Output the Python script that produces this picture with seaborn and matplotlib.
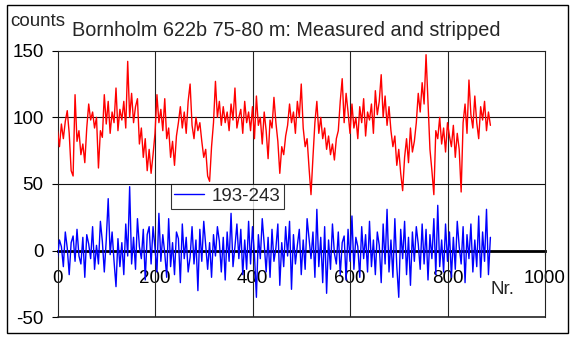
import matplotlib
matplotlib.use("Agg")
import matplotlib.pyplot as plt
from matplotlib.patches import Rectangle
import numpy as np
import seaborn as sns

# measured counts (red), read every 4th sample off the picture
red = [90, 78, 95, 84, 97, 105, 88, 60, 56, 117, 82, 90, 72, 80, 66, 92, 110, 98, 104, 92,
       100, 62, 90, 85, 117, 95, 112, 88, 104, 96, 122, 90, 106, 98, 112, 92, 142, 100, 118, 96,
       108, 114, 80, 92, 70, 84, 60, 76, 58, 72, 88, 117, 96, 106, 90, 114, 84, 92, 70, 82,
       64, 86, 96, 108, 92, 104, 88, 112, 125, 94, 84, 100, 90, 96, 82, 70, 76, 56, 52, 78,
       96, 127, 100, 112, 94, 108, 96, 104, 90, 110, 98, 122, 92, 100, 106, 88, 112, 96, 104, 90,
       108, 84, 116, 94, 100, 80, 104, 90, 69, 98, 92, 115, 96, 82, 58, 78, 72, 86, 94, 110,
       96, 104, 88, 112, 100, 125, 92, 78, 84, 62, 42, 70, 96, 112, 88, 100, 84, 92, 76, 86,
       72, 80, 68, 84, 90, 112, 129, 96, 118, 104, 88, 110, 92, 100, 84, 108, 96, 114, 86, 104,
       98, 110, 88, 120, 102, 112, 132, 100, 116, 94, 108, 90, 78, 86, 64, 76, 58, 45, 70, 84,
       66, 92, 74, 82, 96, 118, 104, 126, 110, 147, 112, 76, 60, 42, 90, 84, 100, 80, 92, 74,
       96, 86, 78, 94, 70, 88, 76, 44, 96, 110, 88, 128, 102, 92, 116, 96, 84, 108, 98, 112,
       90, 104, 94]

# stripped counts, window 193-243 (blue)
blue = [-5, 8, 3, -12, 14, 2, -18, 6, 11, -8, 16, -4, -10, 10, -20, 12, 5, -6, 18, -14,
        4, -10, 22, 7, -16, 8, 39, -3, 14, -8, -27, 9, -12, 6, -18, 20, -4, 48, -10, 10,
        -14, 24, 3, -6, 16, -22, 12, 18, -10, 18, 2, -16, 28, -8, 12, -2, -20, 24, -12, 6,
        -18, 14, 9, -24, 20, -6, 10, -16, -5, 18, -10, 8, -30, 16, -8, 22, 4, -14, 6, -20,
        12, -4, 18, 7, -16, 10, -22, 14, -8, 28, -12, 3, 20, -6, 16, -18, 8, -14, 22, -10,
        18, -3, -35, 12, -6, 24, 5, -16, 10, -20, 16, -8, 2, 20, -26, 6, -12, 18, -4, 22,
        -29, 12, -10, 4, 16, -18, 8, -14, 24, 9, -6, 14, -20, 31, -12, 10, -24, 18, -32, 8,
        -14, 20, -2, -10, 14, -18, 6, 11, -22, 16, -8, 26, -14, 10, 3, -20, 18, -6, 12, -16,
        22, -12, 8, -18, 14, 4, -24, 20, -10, 31, -16, 8, -20, 24, -12, -35, 16, -6, 22, -18,
        10, -26, 14, -8, 18, 5, -14, 20, -10, 16, -22, 12, -6, 24, -18, 34, -12, 8, -16, 20,
        -8, 14, -20, 10, -14, 22, 3, -10, 18, -24, 12, -6, 20, -16, 8, -12, 26, -20, 14, -8,
        31, -18, 10]

nr = np.arange(0, 4 * len(red), 4)

xticks = [0, 200, 400, 600, 800, 1000]
yticks = [-50, 0, 50, 100, 150]

sns.set_style("white")
plt.rcParams['font.family'] = ['Liberation Sans', 'DejaVu Sans']
plt.rcParams['axes.unicode_minus'] = False

fig = plt.figure(figsize=(5.7, 3.38), dpi=100)
ax = fig.add_axes([57.5 / 570, 1 - 317.3 / 338, 487.5 / 570, 266.6 / 338])

for x in xticks[1:-1]:
    ax.axvline(x, color='#222222', lw=0.8, zorder=1)
for y in [50, 100]:
    ax.axhline(y, color='#111111', lw=0.8, zorder=1)

sns.lineplot(x=nr, y=red, color='#ff0000', lw=1.0, ax=ax, zorder=3)
sns.lineplot(x=nr, y=blue, color='#0000ff', lw=1.0, ax=ax, zorder=3, label='193-243')

ax.set_xlim(0, 1000)
ax.set_ylim(-50, 150)
ax.set_xticks(xticks)
ax.set_yticks(yticks)
ax.tick_params(axis='both', labelsize=13.5, colors='black', direction='out')
ax.tick_params(axis='y', length=4, width=0.8, pad=6, left=True)
ax.tick_params(axis='x', length=3, width=0.8, pad=11, bottom=True)

# x axis crosses at zero
ax.spines['bottom'].set_position(('data', 0))
ax.spines['bottom'].set_linewidth(2)
ax.spines['bottom'].set_color('black')
ax.spines['bottom'].set_zorder(2)
for s in ['left', 'top', 'right']:
    ax.spines[s].set_color('#222222')
    ax.spines[s].set_linewidth(0.8)
ax.axhline(-50, color='#222222', lw=1.2, clip_on=False)

leg = ax.legend(loc='upper left', bbox_to_anchor=(0.232, 0.5), fontsize=13.5,
                frameon=True, fancybox=False, handlelength=1.6, handletextpad=0.4,
                borderpad=0.2, borderaxespad=0)
leg.get_frame().set_edgecolor('black')
leg.get_frame().set_linewidth(0.8)

ax.set_xlabel('')
ax.set_ylabel('')
ax.text(1 - 42 / 487.5, (317.3 - 290) / 266.6, 'Nr.', transform=ax.transAxes,
        ha='center', va='center', fontsize=13.5)

fig.text(10 / 570, 1 - 22 / 338, 'counts', ha='left', va='center', fontsize=13.5)
fig.text(286 / 570, 1 - 31 / 338, 'Bornholm 622b 75-80 m: Measured and stripped',
         ha='center', va='center', fontsize=14.3)

fig.patches.append(Rectangle((7 / 570, 1 - 333 / 338), 561 / 570, 328 / 338,
                             transform=fig.transFigure, fill=False, ec='black', lw=1))

plt.savefig('out.png', dpi=100)
